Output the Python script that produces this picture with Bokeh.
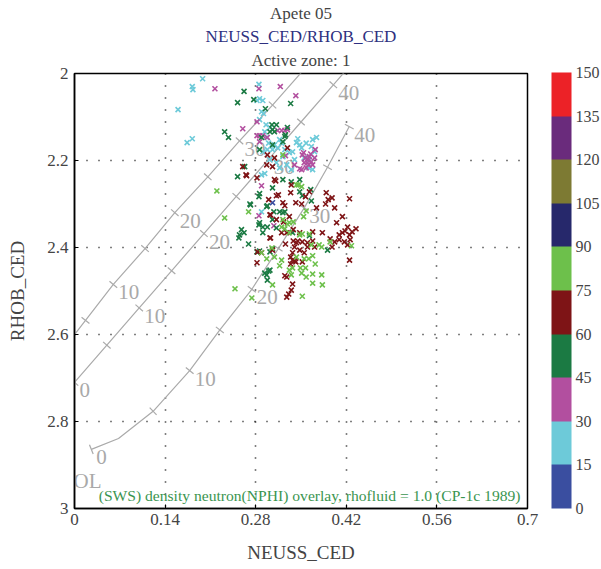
import math
from bokeh.plotting import figure
from bokeh.models import (Range1d, FixedTicker, ColorBar, LinearColorMapper, Title)
from bokeh.core.properties import value
from bokeh.embed import file_html
from bokeh.resources import INLINE

FONT = "Liberation Serif"

# ---- colour scale (zone value 0..150) ----
cb_ticks = [0, 15, 30, 45, 60, 75, 90, 105, 120, 135, 150]
cb_colors = ["#3a4ea0", "#6dcad9", "#b24f9f", "#1b7a43", "#7e1416",
             "#6dc04b", "#26286b", "#7d7a33", "#6a2b7c", "#ec2227"]

# ---- scatter data, grouped by colour class ----
c15_x = [0.160, 0.174, 0.182, 0.182, 0.183, 0.198, 0.285, 0.286, 0.291, 0.282, 0.289, 0.292, 0.286, 0.294,
         0.297, 0.302, 0.291, 0.298, 0.302, 0.306, 0.309, 0.317, 0.322, 0.332, 0.337, 0.343, 0.348, 0.351,
         0.366, 0.371, 0.368, 0.374, 0.362, 0.368, 0.340, 0.328, 0.335, 0.317, 0.289, 0.294, 0.289, 0.363,
         0.355, 0.314, 0.325, 0.296, 0.300, 0.312, 0.345, 0.358, 0.320]
c15_y = [2.083, 2.159, 2.150, 2.030, 2.037, 2.012, 2.025, 2.058, 2.062, 2.062, 2.088, 2.092, 2.106, 2.134,
         2.147, 2.124, 2.180, 2.175, 2.198, 2.175, 2.164, 2.152, 2.191, 2.182, 2.180, 2.159, 2.164, 2.171,
         2.168, 2.180, 2.152, 2.147, 2.217, 2.221, 2.198, 2.210, 2.221, 2.217, 2.233, 2.230, 2.318, 2.198,
         2.194, 2.171, 2.175, 2.118, 2.160, 2.205, 2.150, 2.160, 2.160]

c30_x = [0.217, 0.285, 0.318, 0.342, 0.260, 0.282, 0.282, 0.286, 0.291, 0.298, 0.286, 0.320, 0.314, 0.325,
         0.329, 0.352, 0.357, 0.360, 0.363, 0.366, 0.355, 0.362, 0.368, 0.371, 0.358, 0.354, 0.348, 0.351,
         0.340, 0.289, 0.285, 0.308, 0.372, 0.326, 0.365, 0.360]
c30_y = [2.035, 2.035, 2.030, 2.051, 2.127, 2.111, 2.143, 2.143, 2.143, 2.147, 2.157, 2.131, 2.131, 2.131,
         2.129, 2.187, 2.194, 2.198, 2.191, 2.203, 2.205, 2.210, 2.210, 2.194, 2.217, 2.182, 2.219, 2.221,
         2.210, 2.258, 2.327, 2.350, 2.175, 2.189, 2.185, 2.205]

c45_x = [0.262, 0.252, 0.277, 0.334, 0.232, 0.238, 0.295, 0.305, 0.312, 0.302, 0.309, 0.289, 0.329, 0.326,
         0.322, 0.306, 0.286, 0.263, 0.252, 0.271, 0.285, 0.286, 0.297, 0.286, 0.291, 0.298, 0.306, 0.258,
         0.255, 0.254, 0.262, 0.269, 0.286, 0.302, 0.297, 0.302, 0.298, 0.306, 0.325, 0.308, 0.365, 0.366,
         0.352, 0.337, 0.363, 0.391, 0.306, 0.317, 0.348, 0.312, 0.291, 0.282, 0.294, 0.272, 0.298, 0.322,
         0.335, 0.300, 0.322, 0.325, 0.306, 0.348, 0.285]
c45_y = [2.041, 2.067, 2.060, 2.069, 2.134, 2.147, 2.081, 2.118, 2.118, 2.134, 2.134, 2.147, 2.124, 2.141,
         2.157, 2.164, 2.175, 2.214, 2.237, 2.300, 2.283, 2.276, 2.306, 2.343, 2.353, 2.353, 2.336, 2.359,
         2.371, 2.378, 2.366, 2.392, 2.408, 2.410, 2.463, 2.452, 2.475, 2.263, 2.318, 2.318, 2.267, 2.293,
         2.281, 2.366, 2.373, 2.406, 2.403, 2.318, 2.244, 2.355, 2.366, 2.410, 2.459, 2.302, 2.304, 2.244,
         2.249, 2.454, 2.320, 2.145, 2.129, 2.272, 2.348]

c60_x = [0.260, 0.265, 0.266, 0.282, 0.309, 0.298, 0.309, 0.297, 0.306, 0.329, 0.312, 0.302, 0.303, 0.283,
         0.289, 0.282, 0.306, 0.335, 0.334, 0.342, 0.351, 0.322, 0.315, 0.311, 0.389, 0.392, 0.398, 0.388,
         0.402, 0.425, 0.414, 0.405, 0.422, 0.429, 0.435, 0.425, 0.418, 0.417, 0.422, 0.425, 0.409, 0.402,
         0.398, 0.395, 0.383, 0.368, 0.368, 0.360, 0.352, 0.345, 0.338, 0.340, 0.348, 0.337, 0.334, 0.340,
         0.352, 0.325, 0.337, 0.335, 0.331, 0.328, 0.326, 0.332, 0.325, 0.338, 0.328, 0.348, 0.343, 0.355,
         0.342, 0.334, 0.302, 0.303, 0.312, 0.328, 0.374, 0.363, 0.357, 0.426, 0.371, 0.414, 0.409, 0.320,
         0.323, 0.300, 0.360, 0.337]
c60_y = [2.214, 2.233, 2.235, 2.240, 2.244, 2.187, 2.194, 2.210, 2.214, 2.171, 2.281, 2.325, 2.378, 2.410,
         2.412, 2.435, 2.406, 2.256, 2.274, 2.297, 2.300, 2.297, 2.279, 2.247, 2.274, 2.290, 2.286, 2.300,
         2.309, 2.288, 2.329, 2.343, 2.353, 2.364, 2.357, 2.371, 2.362, 2.387, 2.394, 2.429, 2.371, 2.387,
         2.399, 2.380, 2.366, 2.364, 2.385, 2.389, 2.387, 2.385, 2.385, 2.399, 2.406, 2.412, 2.422, 2.431,
         2.433, 2.465, 2.484, 2.498, 2.507, 2.514, 2.392, 2.329, 2.304, 2.359, 2.366, 2.366, 2.389, 2.412,
         2.433, 2.438, 2.378, 2.325, 2.336, 2.468, 2.309, 2.272, 2.283, 2.382, 2.399, 2.366, 2.382, 2.366,
         2.341, 2.290, 2.399, 2.429]

c75_x = [0.220, 0.232, 0.269, 0.248, 0.274, 0.306, 0.322, 0.346, 0.351, 0.354, 0.358, 0.338, 0.332, 0.325,
         0.322, 0.348, 0.378, 0.382, 0.428, 0.368, 0.362, 0.372, 0.357, 0.349, 0.337, 0.358, 0.368, 0.382,
         0.383, 0.368, 0.352, 0.320, 0.352, 0.363, 0.343, 0.355, 0.332, 0.317, 0.309, 0.305, 0.289, 0.395,
         0.332, 0.329, 0.366, 0.351, 0.335, 0.297, 0.343, 0.320]
c75_y = [2.270, 2.332, 2.318, 2.495, 2.516, 2.486, 2.187, 2.256, 2.260, 2.329, 2.316, 2.341, 2.343, 2.357,
         2.336, 2.371, 2.394, 2.399, 2.396, 2.419, 2.426, 2.438, 2.447, 2.447, 2.447, 2.468, 2.461, 2.463,
         2.486, 2.482, 2.512, 2.429, 2.369, 2.369, 2.422, 2.426, 2.452, 2.442, 2.422, 2.401, 2.412, 2.387,
         2.366, 2.346, 2.394, 2.459, 2.463, 2.426, 2.256, 2.353]

c0_x = [0.306]
c0_y = [2.297]

groups = [(c0_x, c0_y, cb_colors[0]), (c15_x, c15_y, cb_colors[1]), (c30_x, c30_y, cb_colors[2]),
          (c45_x, c45_y, cb_colors[3]), (c60_x, c60_y, cb_colors[4]), (c75_x, c75_y, cb_colors[5])]

# ---- density-neutron overlay lines (porosity %, None = vertex without tick) ----
ss_por = [0, 5, 10, 15, 20, 25, 30, 35, 40]
ss_nphi = [-0.026, 0.017, 0.060, 0.109, 0.155, 0.206, 0.255, 0.306, 0.355]
ss_rhob = [2.65, 2.5675, 2.485, 2.4025, 2.32, 2.2375, 2.155, 2.0725, 1.99]
ss_labels = [10, 20, 30]

ls_por = [0, 5, 10, 15, 20, 25, 30, 35, 40, None]
ls_nphi = [0.0, 0.05, 0.10, 0.15, 0.20, 0.25, 0.30, 0.35, 0.40, 0.45]
ls_rhob = [2.71, 2.6245, 2.539, 2.4535, 2.368, 2.2825, 2.197, 2.1115, 2.026, 1.9405]
ls_labels = [0, 10, 20, 30, 40]

dol_por = [0, None, 5, 10, 15, 20, 25, 30, 35, 40]
dol_nphi = [0.026, 0.068, 0.1215, 0.178, 0.2246, 0.274, 0.315, 0.355, 0.391, 0.4246]
dol_rhob = [2.864, 2.839, 2.7765, 2.683, 2.5895, 2.496, 2.4025, 2.309, 2.2155, 2.122]
dol_labels = [0, 10, 20, 30, 40]

x_ticks = [0, 0.14, 0.28, 0.42, 0.56, 0.7]
x_tick_labels = ["0", "0.14", "0.28", "0.42", "0.56", "0.7"]
y_ticks = [2, 2.2, 2.4, 2.6, 2.8, 3]
y_tick_labels = ["2", "2.2", "2.4", "2.6", "2.8", "3"]

W, H = 601, 569
ML, MR, MT, MB = 74, 74, 74, 61
FW, FH = W - ML - MR, H - MT - MB
SX, SY = FW / 0.7, FH / 1.0

p = figure(width=W, height=H, x_range=Range1d(0, 0.7), y_range=Range1d(3, 2),
           output_backend="svg", toolbar_location=None,
           min_border_left=ML, min_border_right=MR, min_border_bottom=MB, min_border_top=0,
           title="Apete 05")
p.title.text_font = FONT
p.title.text_font_size = "17px"
p.title.text_font_style = "normal"
p.title.align = "center"
p.title.standoff = 3
t_zone = Title(text="Active zone: 1", text_font=FONT, text_font_size="17px",
               text_font_style="normal", align="center", standoff=7)
t_curves = Title(text="NEUSS_CED/RHOB_CED", text_font=FONT, text_font_size="17px",
                 text_font_style="normal", text_color="#2e3080", align="center", standoff=0)
p.add_layout(t_zone, "above")
p.add_layout(t_curves, "above")

p.outline_line_color = "black"
p.outline_line_width = 1.5
p.background_fill_color = "white"
p.border_fill_color = "white"

for ax in (p.xaxis, p.yaxis):
    ax.axis_line_width = 1.5
    ax.major_tick_in = 4
    ax.major_tick_out = 0
    ax.minor_tick_line_color = None
    ax.major_label_text_font = FONT
    ax.major_label_text_font_size = "17px"
    ax.axis_label_text_font = FONT
    ax.axis_label_text_font_size = "19px"
    ax.axis_label_text_font_style = "normal"
p.xaxis.ticker = FixedTicker(ticks=x_ticks)
p.xaxis.major_label_overrides = dict(zip(x_ticks, x_tick_labels))
p.yaxis.ticker = FixedTicker(ticks=y_ticks)
p.yaxis.major_label_overrides = dict(zip(y_ticks, y_tick_labels))
p.xaxis.axis_label = "NEUSS_CED"
p.yaxis.axis_label = "RHOB_CED"
p.xaxis.major_label_standoff = 5
p.xaxis.axis_label_standoff = 14
p.yaxis.major_label_standoff = 6
p.yaxis.axis_label_standoff = 16

p.xgrid.ticker = FixedTicker(ticks=x_ticks[1:-1])
p.ygrid.ticker = FixedTicker(ticks=y_ticks[1:-1])
for g in (p.xgrid, p.ygrid):
    g.grid_line_color = "black"
    g.grid_line_width = 1.6
    g.grid_line_dash = "1 11"

LINE_C = "#aaaaaa"


def draw_overlay(por, nphi, rhob, labels):
    p.line(nphi, rhob, line_color=LINE_C, line_width=1.2)
    sx0, sy0, sx1, sy1 = [], [], [], []
    lx, ly, lt = [], [], []
    n = len(por)
    for i, v in enumerate(por):
        if v is None:
            continue
        i0, i1 = max(i - 1, 0), min(i + 1, n - 1)
        dX = (nphi[i1] - nphi[i0]) * SX
        dY = (rhob[i1] - rhob[i0]) * SY
        L = math.hypot(dX, dY)
        px, py = -dY / L * 5, dX / L * 5
        sx0.append(nphi[i] - px / SX); sx1.append(nphi[i] + px / SX)
        sy0.append(rhob[i] - py / SY); sy1.append(rhob[i] + py / SY)
        if v in labels:
            lx.append(nphi[i]); ly.append(rhob[i]); lt.append(str(v))
    p.segment(sx0, sy0, sx1, sy1, line_color=LINE_C, line_width=1.2)
    p.text(lx, ly, text=lt, text_color="#a9a9a9", text_font=value(FONT), text_font_size="21px",
           text_baseline="top", text_align="left", x_offset=5, y_offset=1)


draw_overlay(ss_por, ss_nphi, ss_rhob, ss_labels)
draw_overlay(ls_por, ls_nphi, ls_rhob, ls_labels)
draw_overlay(dol_por, dol_nphi, dol_rhob, dol_labels)

p.text([0.0], [2.91], text=["OL"], text_color="#a9a9a9", text_font=value(FONT), text_font_size="21px",
       text_baseline="top", text_align="left", x_offset=-1)

for gx, gy, col in groups:
    p.scatter(gx, gy, marker="x", size=7, line_color=col, line_width=1.6)

p.text([0.7], [3.0], text=["(SWS) density neutron(NPHI) overlay, rhofluid = 1.0 (CP-1c 1989)"],
       text_color="#3a9550", text_font=value(FONT), text_font_size="15.6px",
       text_baseline="alphabetic", text_align="right", x_offset=-7, y_offset=-13)

mapper = LinearColorMapper(palette=cb_colors, low=0, high=150)
cb = ColorBar(color_mapper=mapper, ticker=FixedTicker(ticks=cb_ticks), width=20, height=FH + 2,
              margin=0, padding=0, location=(FW + 24, 0),
              major_tick_line_color=None, bar_line_color=None, border_line_color=None,
              major_label_text_font=FONT, major_label_text_font_size="16px", label_standoff=4,
              background_fill_color=None)
p.add_layout(cb, "center")

open("out.html", "w").write(file_html(p, INLINE))
